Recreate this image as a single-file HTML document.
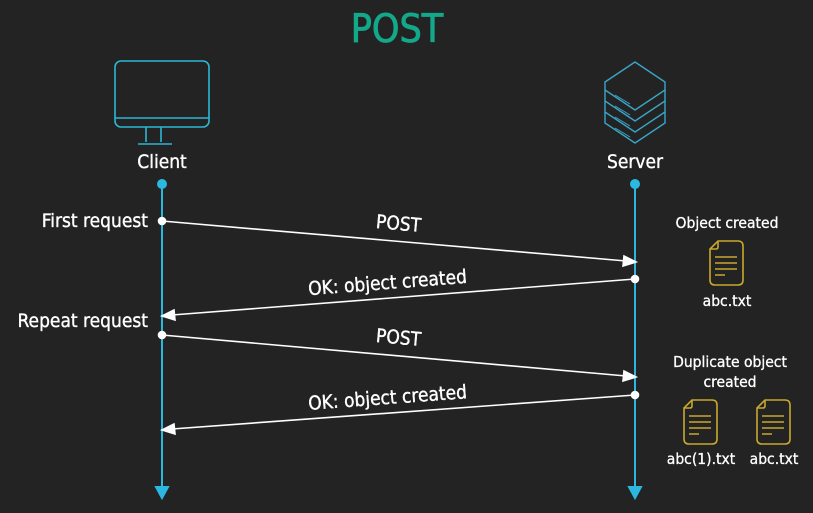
<!DOCTYPE html>
<html><head><style>
html,body{margin:0;padding:0;background:#232323;}
svg{display:block;font-family:"DejaVu Sans Condensed","Liberation Sans",sans-serif;}
</style></head><body>
<svg width="813" height="513" viewBox="0 0 813 513">
<rect width="813" height="513" fill="#232323"/>
<text x="397" y="42" text-anchor="middle" font-size="39" fill="#14a88a" stroke="#14a88a" stroke-width="0.8">POST</text>
<!-- monitor -->
<g fill="none" stroke="#2bb8d8" stroke-width="1.6">
<rect x="115" y="61" width="94" height="66" rx="6"/>
<line x1="115" y1="118" x2="209" y2="118"/>
<path d="M146 127 V142 M161 127 V142 M138 144 H172"/>
</g>
<!-- server -->
<g fill="none" stroke="#3aa6c8" stroke-width="1.4">
<path d="M605 82 L635 62 L665 82 V90 L635 110 L605 90 Z"/>
<path d="M605 90 V101 L635 121 L665 101 V90"/>
<path d="M605 101 V112 L635 132 L665 112 V101"/>
<path d="M605 112 V123 L635 143 L665 123 V112"/>
<path d="M615 95 L630 104 M615 106 L630 115 M615 117 L630 126 M615 128 L630 137" stroke-width="1"/>
</g>
<g fill="#fff" stroke="#fff" stroke-width="0.35">
<text x="162" y="168" text-anchor="middle" font-size="19">Client</text>
<text x="635" y="168" text-anchor="middle" font-size="19">Server</text>
</g>
<!-- lifelines -->
<g stroke="#2bb8e0" stroke-width="2" fill="#2bb8e0">
<line x1="162" y1="184" x2="162" y2="488"/>
<line x1="635" y1="184" x2="635" y2="488"/>
<circle cx="162" cy="184" r="4"/><circle cx="635" cy="184" r="4"/>
<path d="M156 487 L168 487 L162 498 Z"/><path d="M629 487 L641 487 L635 498 Z"/>
</g>
<!-- arrows -->
<g stroke="#fff" stroke-width="1.6" fill="#fff">
<line x1="162" y1="221" x2="626" y2="261"/><path d="M636 262 L624 256 L623 266 Z"/><circle cx="162" cy="221" r="3.5"/>
<line x1="635" y1="279" x2="172" y2="315"/><path d="M162 316 L174 310 L175 320 Z"/><circle cx="635" cy="279" r="3.5"/>
<line x1="162" y1="335" x2="626" y2="376"/><path d="M636 377 L624 371 L623 381 Z"/><circle cx="162" cy="335" r="3.5"/>
<line x1="635" y1="395" x2="172" y2="429"/><path d="M162 430 L174 424 L175 434 Z"/><circle cx="635" cy="395" r="3.5"/>
</g>
<g fill="#fff" font-size="19" stroke="#fff" stroke-width="0.35">
<text x="398" y="230" text-anchor="middle" transform="rotate(5 398 230)">POST</text>
<text x="388" y="289" text-anchor="middle" transform="rotate(-4.5 388 289)">OK: object created</text>
<text x="398" y="344" text-anchor="middle" transform="rotate(5 398 344)">POST</text>
<text x="388" y="404" text-anchor="middle" transform="rotate(-4.2 388 404)">OK: object created</text>
<text x="148" y="227" text-anchor="end">First request</text>
<text x="148" y="327" text-anchor="end">Repeat request</text>
</g>
<!-- files -->
<defs>
<g id="f" fill="none" stroke="#c9a82c" stroke-width="1.6">
<path d="M8 0 H28 Q33 0 33 5 V39 Q33 44 28 44 H5 Q0 44 0 39 V8 Z"/>
<path d="M0 8 H6 Q8 8 8 6 V0"/>
<path d="M5 16 H27 M5 22 H27 M5 28 H27 M5 34 H15"/>
</g>
</defs>
<use href="#f" x="710" y="241"/>
<use href="#f" x="684" y="400"/>
<use href="#f" x="757" y="400"/>
<g fill="#fff" font-size="15.5" text-anchor="middle" stroke="#fff" stroke-width="0.3">
<text x="727" y="228">Object created</text>
<text x="727" y="306">abc.txt</text>
<text x="730" y="367">Duplicate object</text>
<text x="730" y="387">created</text>
<text x="701" y="464">abc(1).txt</text>
<text x="774" y="464">abc.txt</text>
</g>
</svg>
</body></html>
